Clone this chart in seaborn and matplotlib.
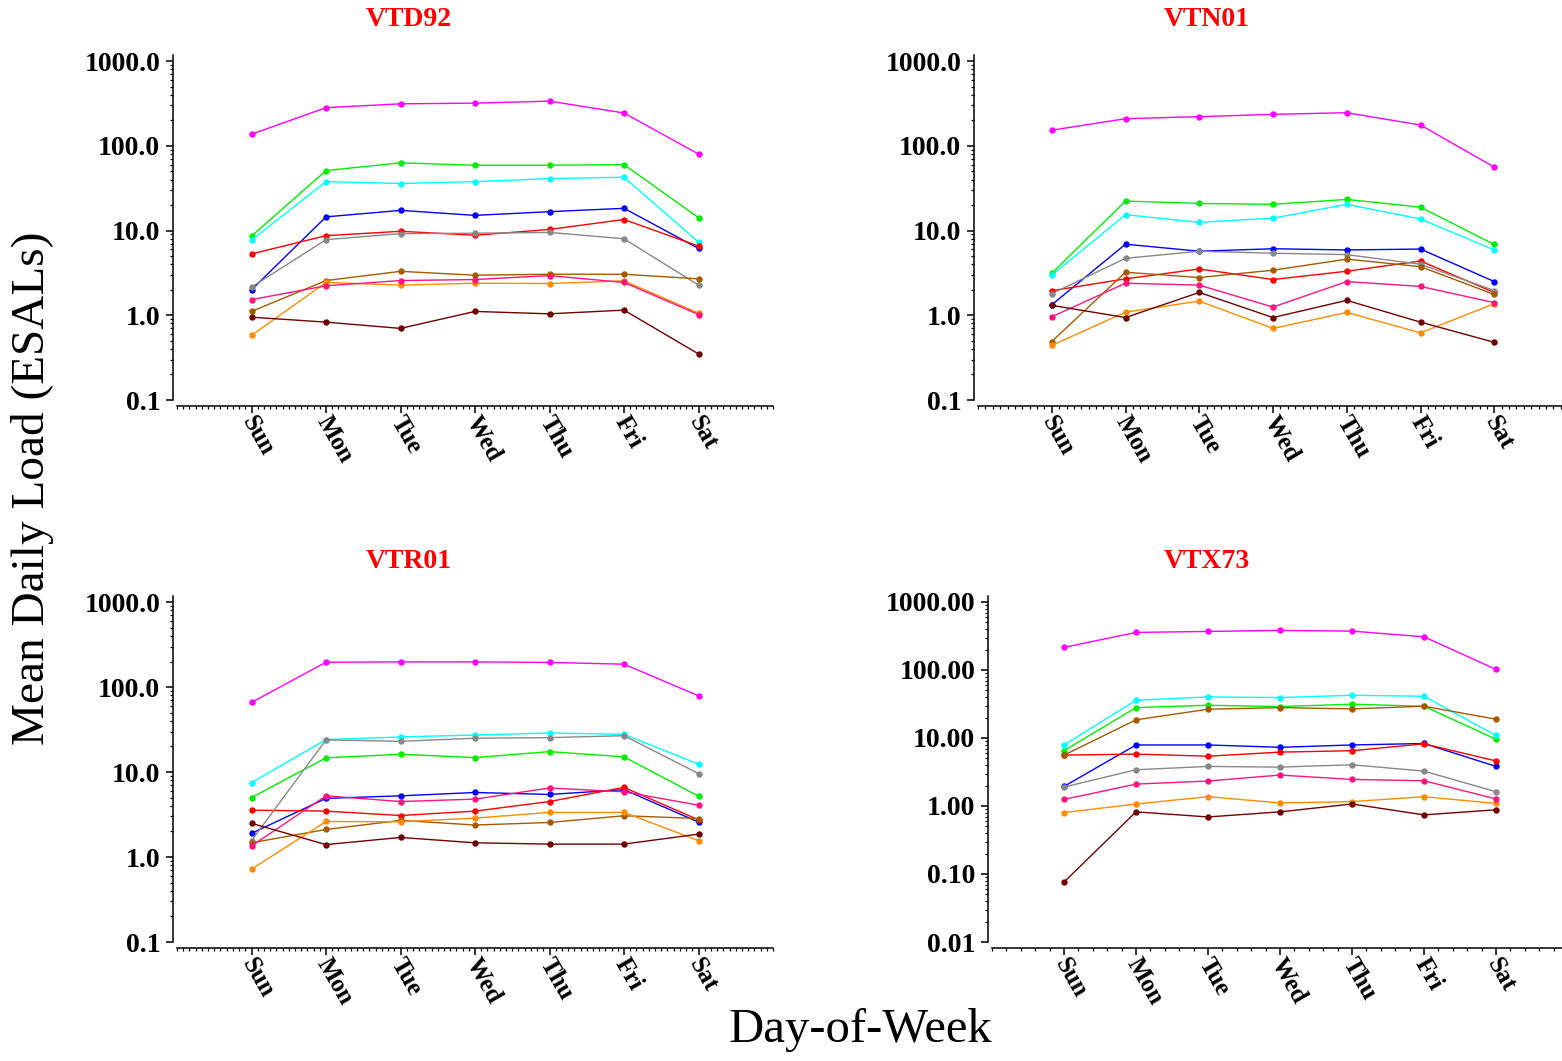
import numpy as np
import pandas as pd
import matplotlib
matplotlib.use("Agg")
import matplotlib.pyplot as plt
import matplotlib.transforms as mtransforms
import seaborn as sns
from matplotlib.ticker import FixedLocator, FixedFormatter, LogLocator, NullFormatter, MultipleLocator

# ---------------- data ----------------
days = ["Sun", "Mon", "Tue", "Wed", "Thu", "Fri", "Sat"]
sites = ["VTD92", "VTN01", "VTR01", "VTX73"]
series_names = ["S1", "S2", "S3", "S4", "S5", "S6", "S7", "S8", "S9", "S10"]
series_colors = ["#ff00ff", "#00ee00", "#00ffff", "#0000ff", "#ff0000",
                 "#888888", "#a65a00", "#ff8c00", "#ff1480", "#700000"]

vtd92_s1 = [137, 282, 313, 319, 337, 244, 80]
vtd92_s2 = [8.6, 51, 63, 59, 59, 60, 14.2]
vtd92_s3 = [7.7, 37.8, 35.9, 37.8, 41, 42.6, 7.3]
vtd92_s4 = [2.0, 14.5, 17.3, 15.1, 16.7, 18.3, 6.15]
vtd92_s5 = [5.3, 8.7, 9.8, 8.8, 10.3, 13.5, 6.55]
vtd92_s6 = [2.15, 7.8, 9.2, 9.3, 9.5, 8.0, 2.27]
vtd92_s7 = [1.11, 2.57, 3.3, 2.97, 3.05, 3.05, 2.69]
vtd92_s8 = [0.58, 2.44, 2.27, 2.39, 2.37, 2.55, 1.06]
vtd92_s9 = [1.53, 2.23, 2.57, 2.64, 2.94, 2.44, 1.02]
vtd92_s10 = [0.95, 0.83, 0.70, 1.11, 1.04, 1.15, 0.35]

vtn01_s1 = [153, 209, 221, 235, 246, 176, 56]
vtn01_s2 = [3.13, 22.3, 20.9, 20.4, 23.3, 18.9, 6.85]
vtn01_s3 = [2.97, 15.4, 12.5, 14.0, 20.4, 13.7, 5.9]
vtn01_s4 = [1.33, 6.9, 5.7, 6.1, 5.9, 6.05, 2.5]
vtn01_s5 = [1.95, 2.69, 3.52, 2.64, 3.31, 4.37, 1.86]
vtn01_s6 = [1.8, 4.7, 5.7, 5.4, 5.2, 4.0, 1.96]
vtn01_s7 = [0.49, 3.22, 2.79, 3.4, 4.6, 3.75, 1.76]
vtn01_s8 = [0.44, 1.09, 1.47, 0.70, 1.08, 0.62, 1.37]
vtn01_s9 = [0.96, 2.39, 2.27, 1.25, 2.5, 2.19, 1.41]
vtn01_s10 = [1.31, 0.94, 1.86, 0.94, 1.5, 0.83, 0.48]

vtr01_s1 = [66, 196, 198, 198, 195, 186, 79]
vtr01_s2 = [5.0, 14.7, 16.2, 14.8, 17.4, 15.1, 5.2]
vtr01_s3 = [7.5, 24.1, 25.9, 27.3, 28.8, 27.8, 12.4]
vtr01_s4 = [1.9, 4.9, 5.25, 5.75, 5.45, 6.2, 2.58]
vtr01_s5 = [3.56, 3.47, 3.08, 3.47, 4.5, 6.6, 2.74]
vtr01_s6 = [1.56, 23.9, 23.0, 25.0, 25.4, 26.8, 9.6]
vtr01_s7 = [1.47, 2.11, 2.7, 2.38, 2.55, 3.06, 2.84]
vtr01_s8 = [0.72, 2.62, 2.6, 2.87, 3.35, 3.35, 1.56]
vtr01_s9 = [1.35, 5.25, 4.5, 4.8, 6.5, 5.85, 4.08]
vtr01_s10 = [2.49, 1.40, 1.70, 1.47, 1.42, 1.42, 1.86]

vtx73_s1 = [215, 357, 369, 382, 373, 308, 102]
vtx73_s2 = [6.5, 28, 30.3, 29, 31.4, 29.3, 9.6]
vtx73_s3 = [7.9, 35.9, 40.2, 39.3, 42.5, 41.1, 10.9]
vtx73_s4 = [1.94, 7.9, 7.9, 7.3, 7.9, 8.3, 3.82]
vtx73_s5 = [5.6, 5.8, 5.4, 6.2, 6.5, 8.2, 4.6]
vtx73_s6 = [1.9, 3.41, 3.82, 3.73, 4.04, 3.26, 1.62]
vtx73_s7 = [5.6, 18.5, 26.5, 28, 26.8, 29.3, 18.9]
vtx73_s8 = [0.80, 1.07, 1.37, 1.11, 1.16, 1.37, 1.09]
vtx73_s9 = [1.25, 2.1, 2.33, 2.85, 2.46, 2.35, 1.27]
vtx73_s10 = [0.076, 0.82, 0.69, 0.82, 1.07, 0.74, 0.88]

site_data = {
    "VTD92": [vtd92_s1, vtd92_s2, vtd92_s3, vtd92_s4, vtd92_s5, vtd92_s6, vtd92_s7, vtd92_s8, vtd92_s9, vtd92_s10],
    "VTN01": [vtn01_s1, vtn01_s2, vtn01_s3, vtn01_s4, vtn01_s5, vtn01_s6, vtn01_s7, vtn01_s8, vtn01_s9, vtn01_s10],
    "VTR01": [vtr01_s1, vtr01_s2, vtr01_s3, vtr01_s4, vtr01_s5, vtr01_s6, vtr01_s7, vtr01_s8, vtr01_s9, vtr01_s10],
    "VTX73": [vtx73_s1, vtx73_s2, vtx73_s3, vtx73_s4, vtx73_s5, vtx73_s6, vtx73_s7, vtx73_s8, vtx73_s9, vtx73_s10],
}

ytick_vals_a = [0.1, 1, 10, 100, 1000]
ytick_labels_a = ["0.1", "1.0", "10.0", "100.0", "1000.0"]
ytick_vals_b = [0.01, 0.1, 1, 10, 100, 1000]
ytick_labels_b = ["0.01", "0.10", "1.00", "10.00", "100.00", "1000.00"]

# ---------------- style ----------------
sns.set_theme(style="ticks")
plt.rcParams["font.family"] = ["Liberation Serif", "DejaVu Serif"]
plt.rcParams["axes.linewidth"] = 1.1
plt.rcParams["text.color"] = "black"
plt.rcParams["axes.labelcolor"] = "black"
plt.rcParams["xtick.color"] = "black"
plt.rcParams["ytick.color"] = "black"
plt.rcParams["axes.edgecolor"] = "black"

W, H = 1562, 1061
fig = plt.figure(figsize=(W / 100, H / 100), dpi=100)

def px_axes(left, right, top, bottom):
    return fig.add_axes([left / W, 1 - bottom / H, (right - left) / W, (bottom - top) / H])

# (left px of x=0, right px of x=8, top px, bottom px, ylim, ticks, labels, minor x step, title center x, title y)
layout = {
    "VTD92": (177, 773, 55, 400, (0.1, 1180), ytick_vals_a, ytick_labels_a, 1 / 12, 409, 19),
    "VTN01": (978, 1568, 55, 400, (0.1, 1180), ytick_vals_a, ytick_labels_a, 0.1, 1207, 19),
    "VTR01": (177, 773, 596, 942, (0.1, 1180), ytick_vals_a, ytick_labels_a, 1 / 12, 409, 561),
    "VTX73": (992, 1568, 596, 942, (0.01, 1225), ytick_vals_b, ytick_labels_b, 0.2, 1207, 561),
}

palette = dict(zip(series_names, series_colors))
label_shift = mtransforms.ScaledTranslation(-4 / 100, 0, fig.dpi_scale_trans)

for site in sites:
    l, r, t, b, ylim, yv, yl, mstep, tx, ty = layout[site]
    ax = px_axes(l, r, t, b)
    rows = []
    for name, vals in zip(series_names, site_data[site]):
        for i, (d, v) in enumerate(zip(days, vals)):
            rows.append({"series": name, "x": i + 1, "day": d, "load": v})
    df = pd.DataFrame(rows)
    sns.lineplot(data=df, x="x", y="load", hue="series", hue_order=series_names,
                 palette=palette, marker="o", markersize=4.6, markeredgewidth=0,
                 linewidth=1.0, legend=False, errorbar=None, sort=False, ax=ax)
    sns.despine(ax=ax)
    ax.spines["left"].set_position(("outward", 3))
    ax.spines["bottom"].set_position(("outward", 4))
    ax.set_yscale("log")
    ax.set_ylim(*ylim)
    ax.set_xlim(0, 8)
    ax.yaxis.set_major_locator(FixedLocator(yv))
    ax.yaxis.set_major_formatter(FixedFormatter(yl))
    ax.yaxis.set_minor_locator(LogLocator(base=10, subs=np.arange(2, 10)))
    ax.yaxis.set_minor_formatter(NullFormatter())
    ax.xaxis.set_major_locator(FixedLocator(range(1, 8)))
    ax.xaxis.set_major_formatter(FixedFormatter(days))
    ax.xaxis.set_minor_locator(MultipleLocator(mstep))
    ax.set_xlabel("")
    ax.set_ylabel("")
    ax.tick_params(axis="both", which="major", length=5, width=1.1, colors="black",
                   direction="out")
    ax.tick_params(axis="y", which="major", labelsize=20, pad=4)
    ax.tick_params(axis="x", which="major", labelsize=18, pad=4)
    ax.tick_params(axis="both", which="minor", length=2.5, width=0.9, direction="out")
    for lab in ax.get_yticklabels():
        lab.set_fontweight("bold")
    for lab in ax.get_xticklabels():
        lab.set_fontweight("bold")
        lab.set_rotation(-60)
        lab.set_ha("left")
        lab.set_va("center")
        lab.set_rotation_mode("anchor")
        lab.set_transform(lab.get_transform() + label_shift)
    ax.set_facecolor("white")
    fig.text(tx / W, 1 - ty / H, site, color="#ff0000", fontsize=20, fontweight="bold",
             ha="center", va="center")

fig.text(33 / W, 1 - 488 / H, "Mean Daily Load (ESALs)", rotation=90, fontsize=34,
         ha="center", va="center", color="black")
fig.text(860 / W, 1 - 1030 / H, "Day-of-Week", fontsize=35, ha="center", va="center",
         color="black")

fig.savefig("out.png", dpi=100, facecolor="white")
